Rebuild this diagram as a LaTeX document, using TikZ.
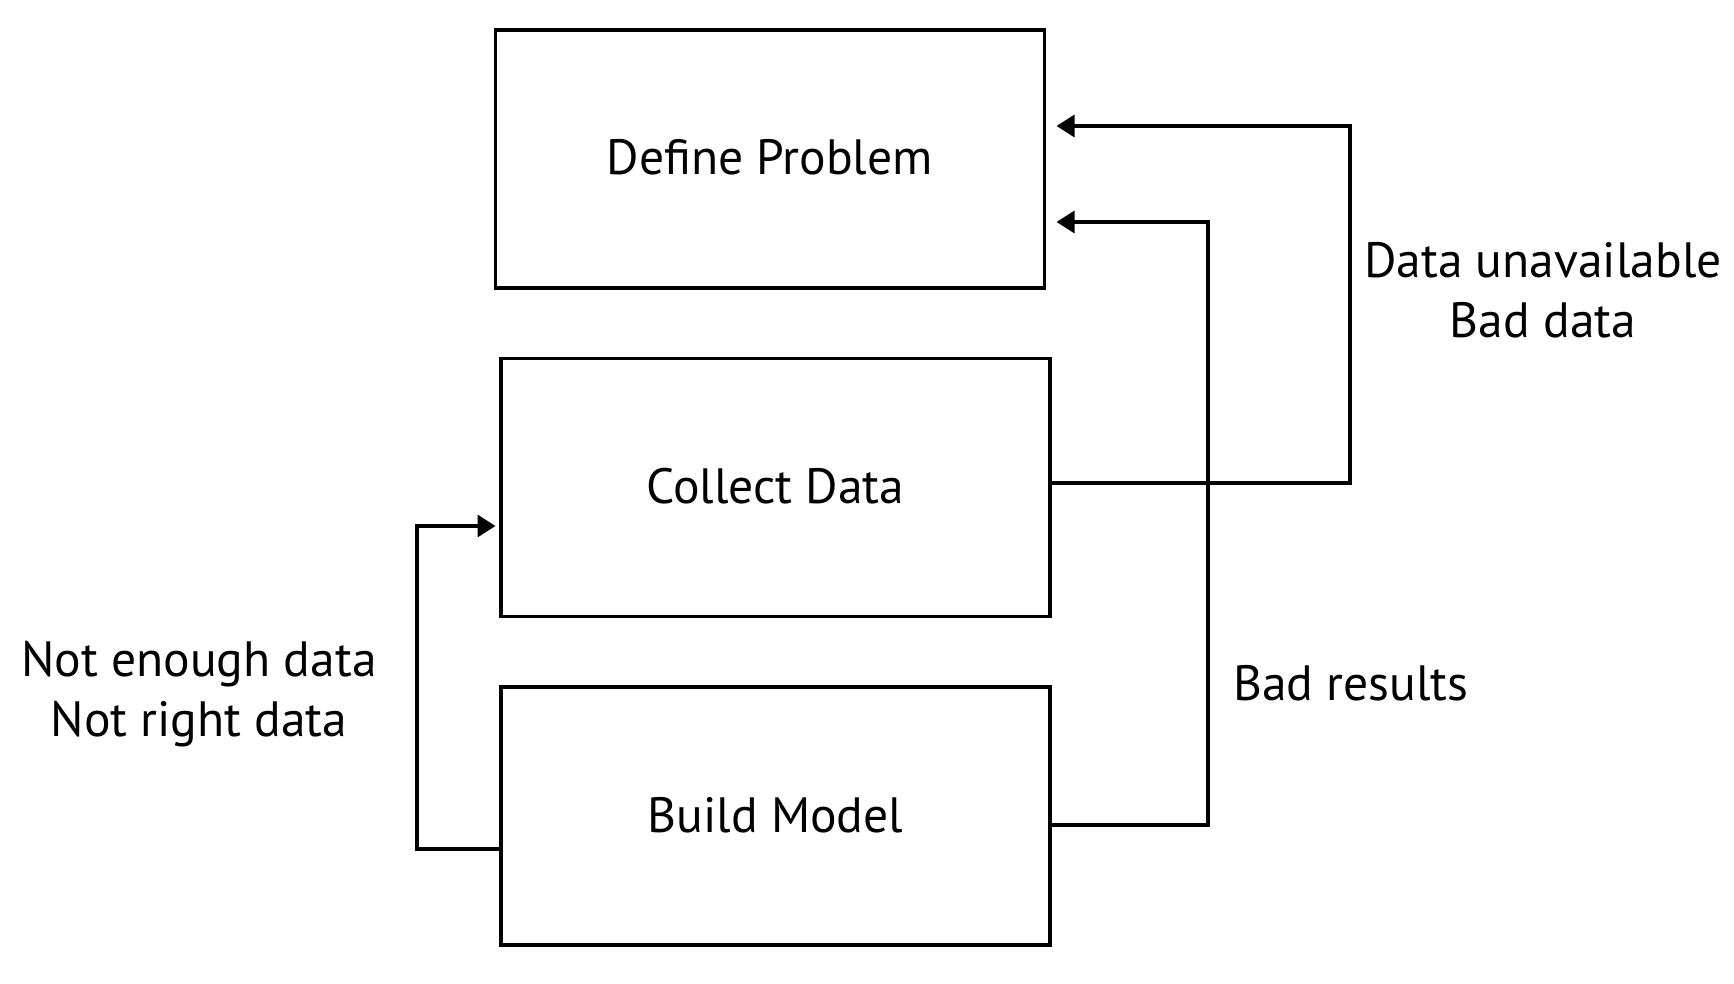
\documentclass[tikz,border=0pt]{standalone}
\usepackage{fontspec}
\setmainfont{PT Sans}
\usetikzlibrary{arrows.meta,calc}
\begin{document}
\begin{tikzpicture}[x=0.5pt,y=-0.5pt,
  box/.style={draw,line width=1.65pt,rectangle,inner sep=0pt,minimum width=274.5pt,minimum height=129pt,font=\fontsize{24.8}{30}\selectfont},
  lbl/.style={align=center,inner sep=0pt,font=\fontsize{24.8}{30}\selectfont},
  conn/.style={line width=1.65pt},
  arr/.style={conn,-{Triangle[length=9pt,width=11pt]}}]
\useasboundingbox (0,0) rectangle (1734,984);
\node[box] (define) at (769.75,159) {\raisebox{1.6pt}{Define Problem}};
\node[box] (collect) at (775.5,487.5) {\raisebox{1.6pt}{Collect Data}};
\node[box] (build) at (775.5,816) {\raisebox{1.2pt}{Build Model}};
\coordinate (t1) at (1056.5,126);
\coordinate (t2) at (1056.5,222);
\coordinate (t3) at (495.5,526);
\draw[arr] ([yshift=2.25pt]collect.east) -| (1350,126) -- (t1);
\draw[arr] ([yshift=-4.5pt]build.east) -| (1208,222) -- (t2);
\draw[arr] ([yshift=-16.5pt]build.west) -| (417,526) -- (t3);
\node[lbl] (l1) at (1543,290) {Data unavailable\\Bad data};
\node[lbl] (l2) at (199,694) {Not enough data\\Not right data};
\node[lbl] (l3) at (1351,683) {Bad results};
\end{tikzpicture}
\end{document}
